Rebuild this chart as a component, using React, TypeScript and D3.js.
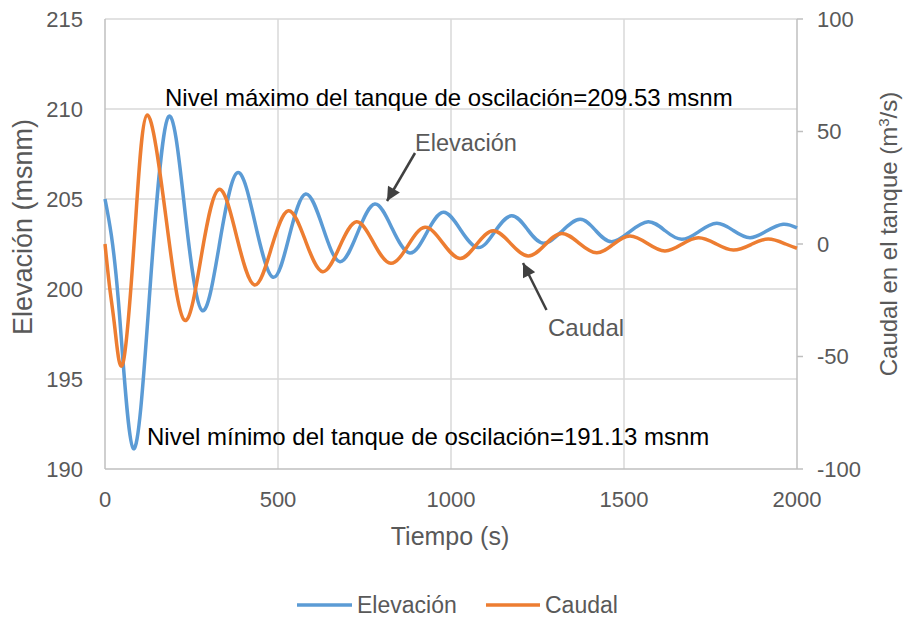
import React from "react";
import * as d3 from "d3";

// Surge-tank elevation (msnm) over time (s)
const elevTime = [0, 38, 82, 130, 182, 232, 281, 332, 383, 435, 486, 533, 580, 630, 679, 730, 780, 830, 881, 930, 978, 1028, 1079, 1127, 1175, 1221, 1267, 1320, 1373, 1418, 1464, 1517, 1570, 1618, 1667, 1717, 1768, 1816, 1864, 1912, 1960, 2000];
const elevValues = [205.0, 199.5, 191.13, 200.0, 209.53, 204.17, 198.8, 202.63, 206.46, 203.56, 200.65, 202.97, 205.28, 203.4, 201.52, 203.12, 204.72, 203.36, 202.0, 203.13, 204.26, 203.28, 202.3, 203.19, 204.07, 203.31, 202.54, 203.2, 203.87, 203.25, 202.63, 203.19, 203.74, 203.25, 202.76, 203.2, 203.65, 203.25, 202.85, 203.22, 203.6, 203.4];

// Flow into the tank (m³/s) over time (s)
const flowTime = [0, 14, 29, 53, 87, 122, 176, 229, 279, 329, 381, 432, 481, 530, 580, 629, 678, 727, 776, 826, 876, 925, 976, 1026, 1074, 1122, 1172, 1223, 1272, 1320, 1370, 1421, 1469, 1517, 1568, 1618, 1667, 1715, 1766, 1816, 1867, 1917, 1967, 2000];
const flowValues = [0, -20, -38, -52.3, 7, 57.3, 12, -33.8, -4.8, 24.3, 3, -18.2, -1.7, 14.8, 1.2, -12.3, -1.2, 9.9, 0.6, -8.6, -0.6, 7.4, 0.5, -6.4, -0.2, 5.9, 0.3, -5.3, -0.3, 4.7, 0.4, -3.9, -0.15, 3.6, 0.25, -3.1, -0.15, 2.8, 0.05, -2.7, -0.25, 2.2, 0, -1.9];

const xTicks = [0, 500, 1000, 1500, 2000];
const leftTicks = [190, 195, 200, 205, 210, 215];
const rightTicks = [-100, -50, 0, 50, 100];

const seriesNames = ["Elevación", "Caudal"];
const maxLabel = "Nivel máximo del tanque de oscilación=209.53 msnm";
const minLabel = "Nivel mínimo del tanque de oscilación=191.13 msnm";

const W = 906;
const H = 619;
const FONT = "'Liberation Sans', Arial, sans-serif";
const BLUE = "#5B9BD5";
const ORANGE = "#ED7D31";
const GRID = "#d9d9d9";
const AXIS = "#bfbfbf";
const TEXT = "#595959";

export default function App() {
  const x = d3.scaleLinear().domain([0, 2000]).range([105, 797]);
  const yL = d3.scaleLinear().domain([190, 215]).range([469, 19]);
  const yR = d3.scaleLinear().domain([-100, 100]).range([469, 19]);

  const elevLine = d3
    .line<number>()
    .x((_, i) => x(elevTime[i]))
    .y((v) => yL(v))
    .curve(d3.curveNatural);
  const flowLine = d3
    .line<number>()
    .x((_, i) => x(flowTime[i]))
    .y((v) => yR(v))
    .curve(d3.curveNatural);

  const [x0, x1] = x.range();

  return (
    <div style={{ position: "absolute", left: 0, top: 0 }}>
      <svg width={W} height={H} style={{ display: "block", background: "#fff" }} fontFamily={FONT}>
        <defs>
          <marker id="arrowHead" viewBox="0 0 10 10" refX="10" refY="5" markerWidth="6" markerHeight="5.5" markerUnits="strokeWidth" orient="auto">
            <path d="M0,0 L10,5 L0,10 z" fill="#404040" />
          </marker>
        </defs>

        {/* horizontal gridlines */}
        {leftTicks.slice(1).map((t) => (
          <line key={"h" + t} x1={x0} x2={x1} y1={yL(t)} y2={yL(t)} stroke={GRID} strokeWidth={1.5} />
        ))}
        {/* vertical gridlines */}
        {xTicks.slice(1, -1).map((t) => (
          <line key={"v" + t} x1={x(t)} x2={x(t)} y1={yL(215)} y2={yL(190)} stroke={GRID} strokeWidth={1.5} />
        ))}

        {/* axes */}
        <line x1={x0} x2={x0} y1={yL(215)} y2={yL(190)} stroke={AXIS} strokeWidth={1.5} />
        <line x1={x1} x2={x1} y1={yR(100)} y2={yR(-100)} stroke={AXIS} strokeWidth={1.5} />
        <line x1={x0} x2={x1} y1={yL(190)} y2={yL(190)} stroke={AXIS} strokeWidth={1.5} />
        {rightTicks.map((t) => (
          <line key={"rt" + t} x1={x1} x2={x1 + 6} y1={yR(t)} y2={yR(t)} stroke={AXIS} strokeWidth={1.5} />
        ))}

        {/* tick labels */}
        {leftTicks.map((t) => (
          <text key={"lt" + t} x={83} y={yL(t)} dy="0.36em" textAnchor="end" fontSize={22} fill={TEXT}>
            {t}
          </text>
        ))}
        {rightTicks.map((t) => (
          <text key={"rl" + t} x={817} y={yR(t)} dy="0.36em" textAnchor="start" fontSize={22} fill={TEXT}>
            {t}
          </text>
        ))}
        {xTicks.map((t) => (
          <text key={"xt" + t} x={x(t)} y={507} textAnchor="middle" fontSize={22} fill={TEXT}>
            {t}
          </text>
        ))}

        {/* axis titles */}
        <text x={450} y={545} textAnchor="middle" fontSize={25} fill={TEXT}>
          Tiempo (s)
        </text>
        <text transform="translate(32,227) rotate(-90)" textAnchor="middle" fontSize={27} fill={TEXT}>
          Elevación (msnm)
        </text>
        <text transform="translate(897,234) rotate(-90)" textAnchor="middle" fontSize={24} fill={TEXT}>
          Caudal en el tanque (m
          <tspan dy={-8} fontSize={15}>3</tspan>
          <tspan dy={8}>/s)</tspan>
        </text>

        {/* series */}
        <path d={elevLine(elevValues) ?? ""} fill="none" stroke={BLUE} strokeWidth={3.5} strokeLinejoin="round" />
        <path d={flowLine(flowValues) ?? ""} fill="none" stroke={ORANGE} strokeWidth={3.5} strokeLinejoin="round" />

        {/* annotations */}
        <text x={165} y={106} fontSize={24} fill="#000">
          {maxLabel}
        </text>
        <text x={147} y={445} fontSize={24} fill="#000">
          {minLabel}
        </text>
        <text x={415} y={151} fontSize={23.5} fill={TEXT}>
          {seriesNames[0]}
        </text>
        <text x={548} y={336} fontSize={24} fill={TEXT}>
          {seriesNames[1]}
        </text>
        <line x1={415} y1={153} x2={387} y2={201} stroke="#404040" strokeWidth={2.5} markerEnd="url(#arrowHead)" />
        <line x1={546.5} y1={310} x2={523} y2={263} stroke="#404040" strokeWidth={2.5} markerEnd="url(#arrowHead)" />

        {/* legend */}
        <line x1={297} x2={352} y1={605} y2={605} stroke={BLUE} strokeWidth={3.5} />
        <text x={357} y={605} dy="0.36em" fontSize={23} fill={TEXT}>
          {seriesNames[0]}
        </text>
        <line x1={486} x2={540} y1={605} y2={605} stroke={ORANGE} strokeWidth={3.5} />
        <text x={545} y={605} dy="0.36em" fontSize={23} fill={TEXT}>
          {seriesNames[1]}
        </text>
      </svg>
    </div>
  );
}
